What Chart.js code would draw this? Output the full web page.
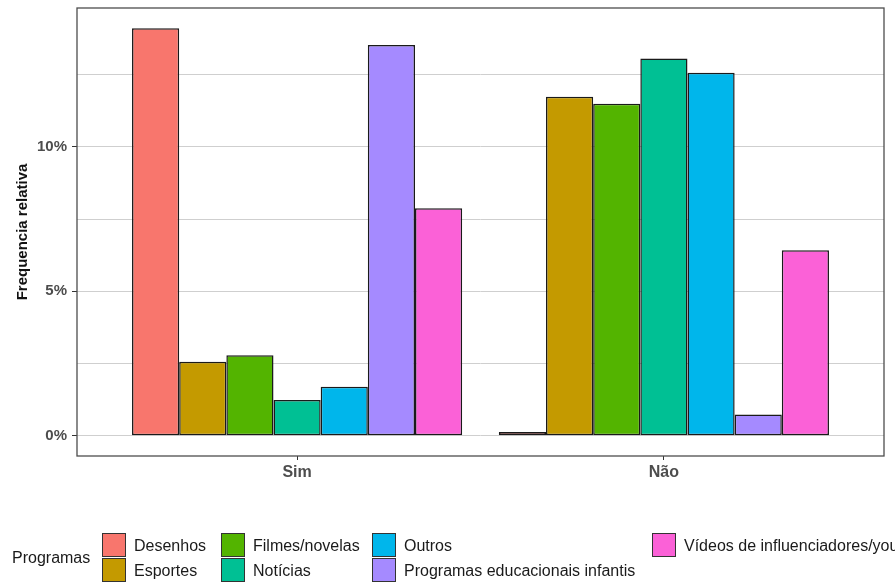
<!DOCTYPE html>
<html>
<head>
<meta charset="utf-8">
<script src="https://cdn.jsdelivr.net/npm/chart.js@4"></script>
<style>
  html, body { margin:0; padding:0; background:#fff; overflow:hidden; }
  #wrap { position:relative; width:895px; height:583px; overflow:hidden; font-family:"Liberation Sans", Arial, sans-serif; }
  #c { position:absolute; left:0; top:0; }
  .lg-title { position:absolute; font-size:16px; color:#1a1a1a; white-space:nowrap; }
  .lg-box { position:absolute; width:22px; height:22px; border:1.3px solid #333; box-sizing:content-box; }
  .lg-text { position:absolute; font-size:16px; color:#1a1a1a; white-space:nowrap; line-height:18px; }
</style>
</head>
<body>
<div id="wrap">
  <canvas id="c" width="895" height="583"></canvas>
  <div id="legend"></div>
</div>
<script>
// ---- data ----
const categories = ['Sim', 'Não'];
const seriesNames = ['Desenhos', 'Esportes', 'Filmes/novelas', 'Notícias', 'Outros', 'Programas educacionais infantis', 'Vídeos de influenciadores/youtubers'];
const desenhos = [14.1, 0.13];
const esportes = [2.56, 11.73];
const filmesNovelas = [2.78, 11.49];
const noticias = [1.23, 13.06];
const outros = [1.69, 12.56];
const programasEducacionais = [13.52, 0.73];
const videosInfluenciadores = [7.87, 6.42];
const yTickValues = [0, 2.5, 5, 7.5, 10, 12.5];
const legendTitle = 'Programas';
const yTitle = 'Frequencia relativa';

const seriesValues = [desenhos, esportes, filmesNovelas, noticias, outros, programasEducacionais, videosInfluenciadores];
const colors = ['#F8766D', '#C49A00', '#53B400', '#00C094', '#00B6EB', '#A58AFF', '#FB61D7'];

const allVals = seriesValues.flat();
const dataMax = Math.max(...allVals);

const datasets = seriesNames.map((name, s) => ({
  label: name,
  data: categories.map((c, i) => ({ x: i + 1, y: seriesValues[s][i] })),
  backgroundColor: colors[s],
  borderColor: '#1a1a1a',
  borderWidth: 1.5,
  borderSkipped: false,
  categoryPercentage: 0.9,
  barPercentage: 1.0
}));

const panelBorder = {
  id: 'panelBorder',
  afterDraw(chart) {
    const { ctx, chartArea: a } = chart;
    ctx.save();
    ctx.strokeStyle = '#4d4d4d';
    ctx.lineWidth = 1.3;
    ctx.strokeRect(a.left, a.top, a.right - a.left, a.bottom - a.top);
    ctx.restore();
  }
};

const FONT = '"Liberation Sans", Arial, sans-serif';

new Chart(document.getElementById('c'), {
  type: 'bar',
  data: { datasets },
  options: {
    responsive: false,
    animation: false,
    layout: { padding: { top: 8, right: 11, left: 0, bottom: 0 } },
    plugins: { legend: { display: false }, tooltip: { enabled: false } },
    scales: {
      x: {
        type: 'linear',
        min: 0.4,
        max: categories.length + 0.6,
        offset: false,
        afterBuildTicks(scale) { scale.ticks = categories.map((c, i) => ({ value: i + 1 })); },
        afterFit(scale) { scale.height = 127; scale.paddingLeft = 0; scale.paddingRight = 0; },
        ticks: {
          callback: (v) => categories[Math.round(v) - 1] ?? '',
          font: { family: FONT, size: 16, weight: 'bold' },
          color: '#4d4d4d',
          padding: 3,
          maxRotation: 0,
          autoSkip: false
        },
        grid: { display: true, drawOnChartArea: false, drawTicks: true, tickLength: 4, tickColor: '#333', offset: false },
        border: { display: false }
      },
      y: {
        min: -0.05 * dataMax,
        max: 1.05 * dataMax,
        afterBuildTicks(scale) { scale.ticks = yTickValues.map(v => ({ value: v })); },
        afterFit(scale) { scale.width = 77; scale.paddingTop = 0; scale.paddingBottom = 0; },
        ticks: {
          callback: (v) => (v % 5 === 0 ? v + '%' : ''),
          font: { family: FONT, size: 15, weight: 'bold' },
          color: '#4d4d4d',
          padding: 5,
          autoSkip: false
        },
        grid: {
          color: '#cfcfcf',
          lineWidth: 1,
          drawTicks: true,
          tickLength: 5,
          tickColor: (ctx) => (ctx.tick && ctx.tick.value % 5 === 0 ? '#333' : 'rgba(0,0,0,0)')
        },
        border: { display: false },
        title: {
          display: true,
          text: yTitle,
          font: { family: FONT, size: 15, weight: 'bold' },
          color: '#111',
          padding: { top: 14, bottom: 0 }
        }
      }
    }
  },
  plugins: [panelBorder]
});

// ---- legend (HTML, column-major, 2 rows) ----
const lg = document.getElementById('legend');
const colX = [102, 221, 372, 652];
const rowY = [533, 558];
const t = document.createElement('div');
t.className = 'lg-title';
t.textContent = legendTitle;
t.style.left = '12px';
t.style.top = '549px';
lg.appendChild(t);
seriesNames.forEach((name, i) => {
  const col = Math.floor(i / 2), row = i % 2;
  const b = document.createElement('div');
  b.className = 'lg-box';
  b.style.left = colX[col] + 'px';
  b.style.top = rowY[row] + 'px';
  b.style.background = colors[i];
  lg.appendChild(b);
  const tx = document.createElement('div');
  tx.className = 'lg-text';
  tx.textContent = name;
  tx.style.left = (colX[col] + 32) + 'px';
  tx.style.top = (rowY[row] + 4) + 'px';
  lg.appendChild(tx);
});
</script>
</body>
</html>
